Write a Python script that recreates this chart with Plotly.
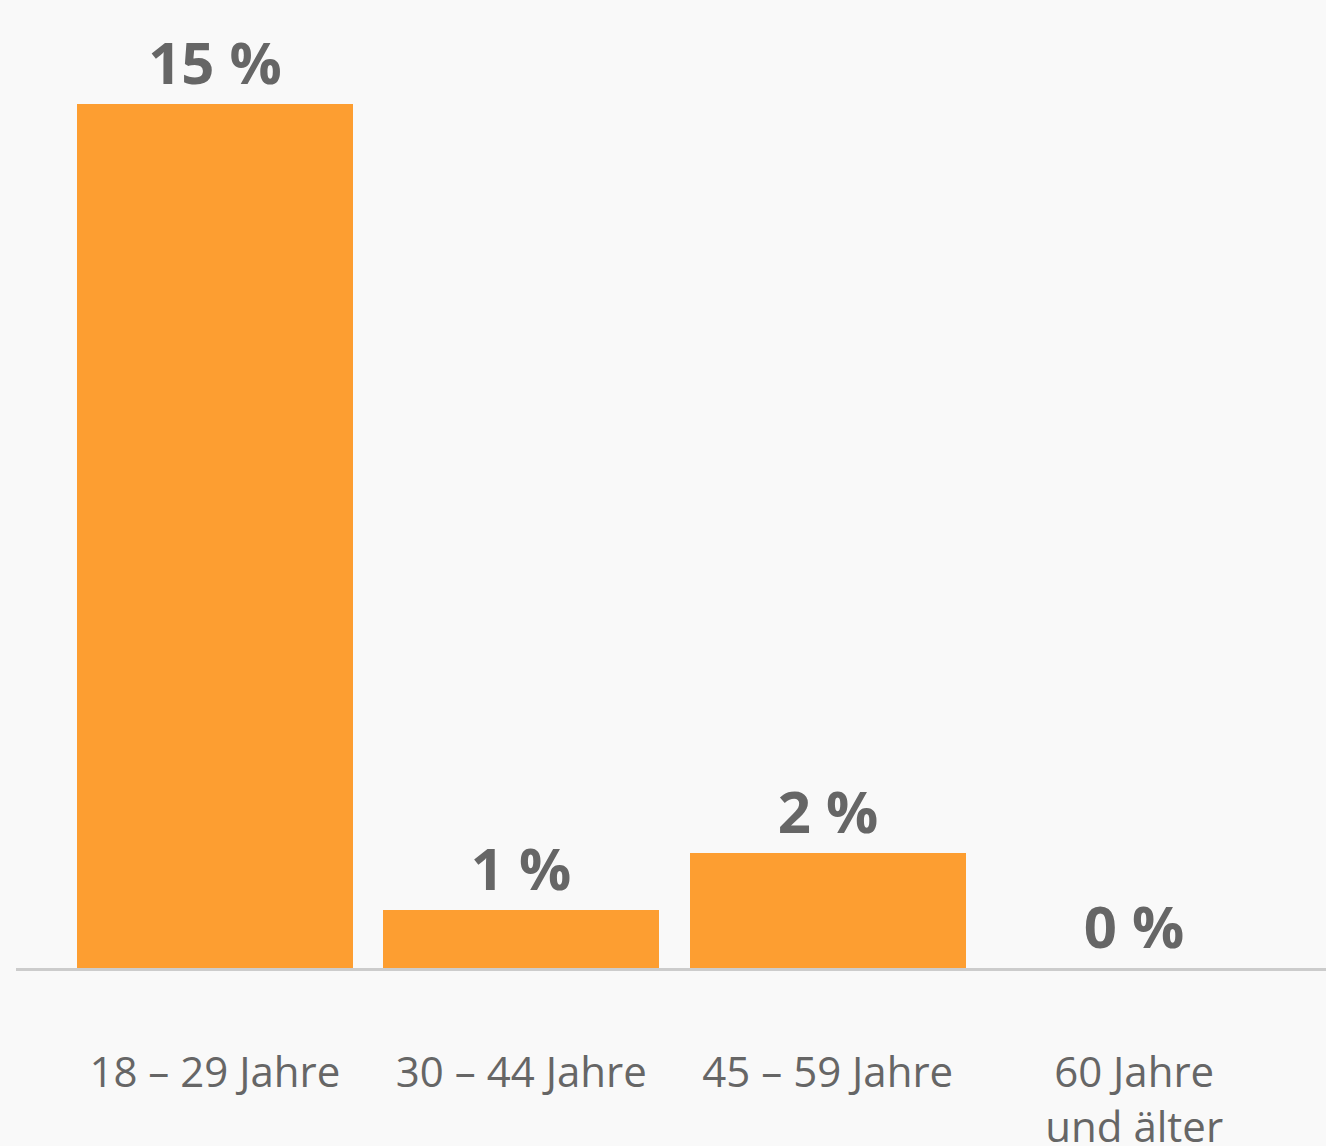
import plotly.graph_objects as go

categories = ["18 – 29 Jahre", "30 – 44 Jahre", "45 – 59 Jahre", "60 Jahre<br>und älter"]
values = [15, 1, 2, 0]
value_labels = ["15 %", "1 %", "2 %", "0 %"]

bar_color = "#FD9E31"
text_color = "#666666"
bg = "#F9F9F9"

x_pos = list(range(len(categories)))

fig = go.Figure()
fig.add_trace(go.Bar(
    x=x_pos, y=values, width=0.9,
    marker=dict(color=bar_color, line=dict(width=0)),
    text=value_labels, textposition="outside", cliponaxis=False,
    textfont=dict(family="Open Sans", size=58, color=text_color, weight="bold"),
    hoverinfo="skip",
))

fig.update_layout(
    width=1326, height=1146,
    margin=dict(l=16, r=0, t=0, b=178, autoexpand=False),
    paper_bgcolor=bg, plot_bgcolor=bg,
    showlegend=False,
    bargap=0,
    font=dict(family="Open Sans", color=text_color),
)
fig.update_xaxes(
    tickmode="array", tickvals=x_pos, ticktext=categories,
    range=[-0.649, 3.626], automargin=False,
    showline=True, linecolor="#CCCCCC", linewidth=3, layer="below traces",
    ticks="", showgrid=False, zeroline=False,
    tickfont=dict(family="Open Sans", size=42, color=text_color),
    ticklabelstandoff=66,
)
fig.update_yaxes(
    range=[0, 16.8], visible=False, showgrid=False, zeroline=False, automargin=False,
)

fig.write_html(
    "out.html",
    config={"displayModeBar": False},
    post_script="document.body.style.margin='0';document.body.style.overflow='hidden';document.body.style.background='#F9F9F9';",
)
